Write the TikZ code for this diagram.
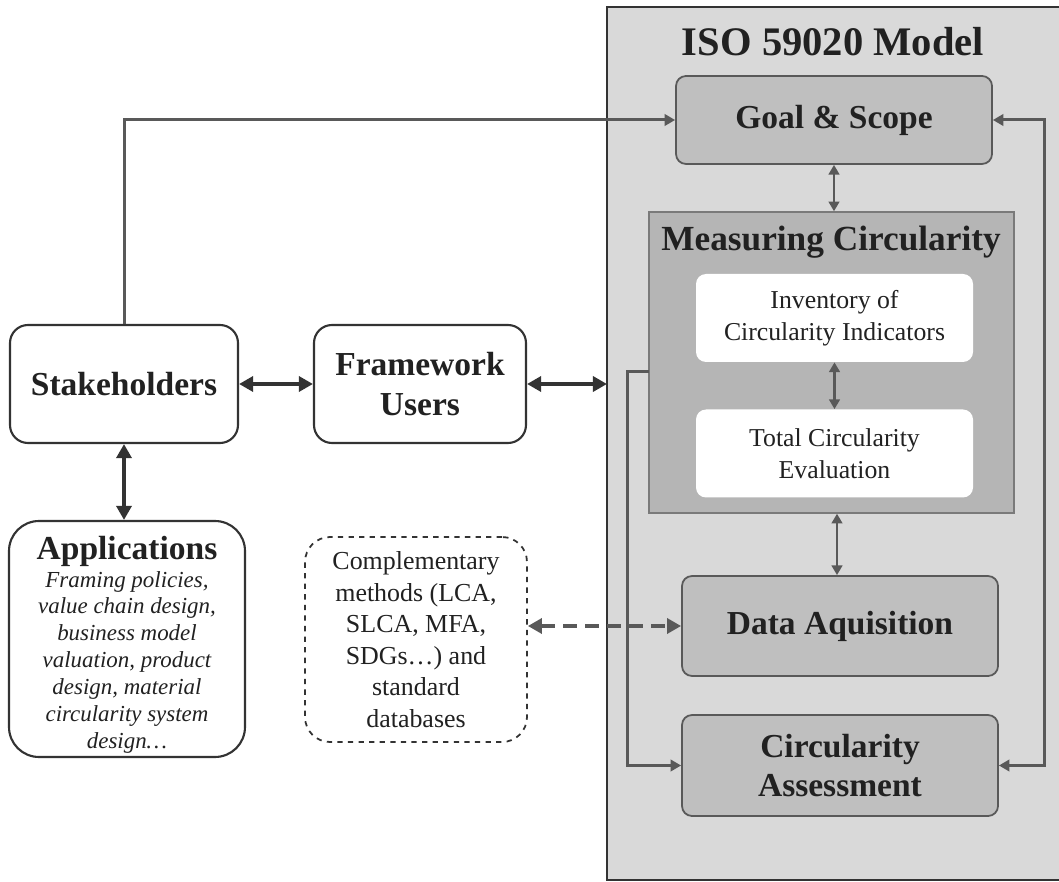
\documentclass[tikz,border=0pt]{standalone}
\usepackage{fontspec}
\setmainfont{Liberation Serif}
\usetikzlibrary{arrows.meta}
\definecolor{panelfill}{gray}{0.85}
\definecolor{boxfill}{gray}{0.75}
\definecolor{measfill}{gray}{0.71}
\definecolor{lc}{gray}{0.35}
\definecolor{dk}{gray}{0.2}
\definecolor{txt}{gray}{0.13}
\def\uu{0.5669pt}
\begin{document}
\begin{tikzpicture}[x=0.5669pt,y=-0.5669pt,
  graybox/.style={draw=lc, line width=1pt, fill=boxfill, rounded corners=10*\uu,
    minimum width=316*\uu, align=center, inner sep=0pt,
    font=\fontsize{19}{22}\selectfont\bfseries, text=txt},
  whitebox/.style={fill=white, rounded corners=10*\uu, minimum width=277*\uu,
    minimum height=88*\uu, align=center, inner sep=0pt,
    font=\fontsize{14.6}{18}\selectfont, text=txt},
  leftbox/.style={draw=dk, line width=1.2pt, fill=white, rounded corners=18*\uu,
    align=center, inner sep=0pt, text=txt},
  conn/.style={draw=lc, line width=1.7pt, -{Triangle[length=6pt,width=6.5pt]}},
  dconn/.style={draw=lc, line width=1.5pt, {Triangle[length=5.5pt,width=6pt]}-{Triangle[length=5.5pt,width=6pt]}},
  bigarrow/.style={draw=dk, line width=2.3pt, {Triangle[length=8pt,width=8.5pt]}-{Triangle[length=8pt,width=8.5pt]}}
]
\useasboundingbox (0,0) rectangle (1059,882);
% panel
\draw[draw=dk, line width=1pt, fill=panelfill] (607,7) rectangle (1075,880);
\coordinate (pw) at (607,383);
\node[text=txt, font=\fontsize{23}{26}\selectfont\bfseries] (title) at (833,42) {ISO 59020 Model};

\node[graybox, minimum height=88*\uu] (goal) at (834,120) {Goal \& Scope};

\node[draw=lc!80, line width=0.8pt, fill=measfill, minimum width=365*\uu, minimum height=301*\uu, inner sep=0pt] (meas) at (831.5,362.5) {};
\node[text=txt, font=\fontsize{20}{24}\selectfont\bfseries] (meastitle) at (831,242) {Measuring Circularity};
\node[whitebox] (inv) at (834.5,318) {Inventory of\\Circularity Indicators};
\node[whitebox] (tot) at (834.5,453.5) {Total Circularity\\Evaluation};

\node[graybox, minimum height=100*\uu] (data) at (840,626) {Data Aquisition};
\node[graybox, minimum height=101*\uu] (assess) at (840,765.5) {Circularity\\Assessment};

% left side
\node[leftbox, minimum width=228*\uu, minimum height=118*\uu, font=\fontsize{19}{22}\selectfont\bfseries] (stake) at (124,384) {Stakeholders};
\node[leftbox, minimum width=212*\uu, minimum height=118*\uu, font=\fontsize{19}{23}\selectfont\bfseries] (fw) at (420,384) {Framework\\Users};
\node[leftbox, rounded corners=30*\uu, minimum width=236*\uu, minimum height=236*\uu] (app) at (127,639) {};
\node[text=txt, align=center, anchor=north, font=\fontsize{19}{22}\selectfont\bfseries] (apptitle) at (127,530) {Applications};
\node[text=txt, align=center, anchor=north, font=\fontsize{13}{15.2}\selectfont\itshape] (apptext) at (127,565) {Framing policies,\\value chain design,\\business model\\valuation, product\\design, material\\circularity system\\design…};
\node[leftbox, draw=dk, dashed, line width=1pt, rounded corners=25*\uu, minimum width=222*\uu, minimum height=205*\uu, font=\fontsize{14.7}{17.9}\selectfont] (comp) at (416,639.5) {Complementary\\methods (LCA,\\SLCA, MFA,\\SDGs…) and\\standard\\databases};

% connectors
\draw[conn] (stake.north) |- (goal.west);
\draw[conn, {Triangle[length=6pt,width=6.5pt]}-{Triangle[length=6pt,width=6.5pt]}] (goal.east) -- ++(52,0) |- (assess.east);
\coordinate (ml) at (649,372);
\draw[conn] (ml) -- (627,372) |- (assess.west);
\draw[dconn] (goal.south) -- (goal.south |- meas.north);
\draw[dconn] (inv.south) -- (tot.north);
\draw[dconn] (meas.south -| 837,0) -- (data.north -| 837,0);
\draw[bigarrow] (stake.east) -- (fw.west);
\draw[bigarrow] (fw.east) -- (fw.east -| pw);
\draw[bigarrow] (stake.south) -- (stake.south |- app.north);
\draw[bigarrow, draw=lc, dash pattern=on 8pt off 4.5pt] (comp.east |- data.west) -- (data.west);
\end{tikzpicture}
\end{document}
